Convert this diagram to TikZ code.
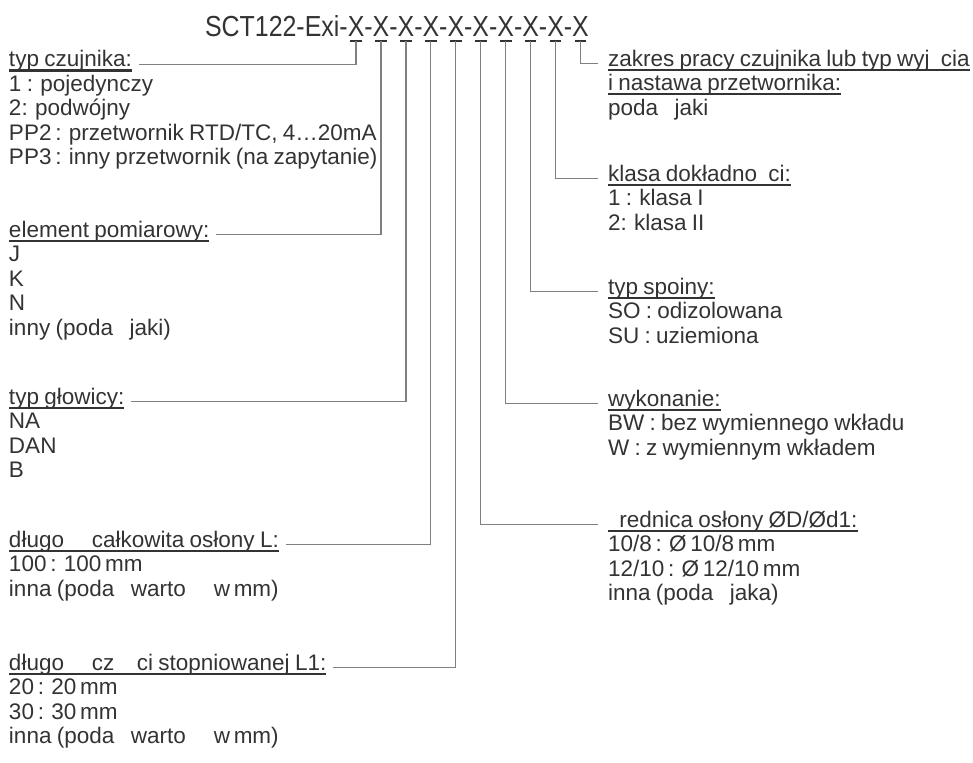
\documentclass[tikz,border=0pt]{standalone}
\usepackage{fontspec}
\setmainfont{Liberation Sans}[WordSpace=0.85]
\newfontfamily\titlefont{Liberation Sans}[FakeStretch=0.86]
\usetikzlibrary{positioning}
\definecolor{ink}{HTML}{333333}
\definecolor{wiregray}{HTML}{808080}
\newcommand{\gapc}{\hspace{0.5em}}

\begin{document}
\begin{tikzpicture}[x=1pt, y=-1pt,
    every node/.style={inner sep=0pt, outer sep=0pt, text=ink, anchor=base west},
    opttext/.style={font=\fontsize{22.5}{24.4}\selectfont},
    headtext/.style={opttext},
    codetext/.style={font=\titlefont\fontsize{29}{30}\selectfont},
    uline/.style={draw=ink, line width=2.2pt},
    conn/.style={draw=wiregray, line width=1.2pt}
]
\useasboundingbox (0,0) rectangle (973,762);

% type code
\node[codetext] (x0) at (205,36.7) {SCT122-Exi};
\foreach \i [count=\j from 0] in {1,...,10} {
    \node[codetext] (d\i) at (x\j.base east) {-};
    \node[codetext] (x\i) at (d\i.base east) {X};
    \draw[uline] ([xshift=2.5pt,yshift=-4.3pt]x\i.base west) -- ([xshift=-2.5pt,yshift=-4.3pt]x\i.base east);
}

% left column
\node[headtext] (czujnik) at (9,67) {typ czujnika:};
\foreach \t [count=\k] in {1 : pojedynczy, 2: podwójny, {PP2\,: przetwornik RTD/TC, 4…20mA}, PP3\,: inny przetwornik (na zapytanie)}
    \node[opttext] (czujnik-\k) at (9,67+24.4*\k) {\t};

\node[headtext] (element) at (9,237.5) {element pomiarowy:};
\foreach \t [count=\k] in {J, K, N, inny (poda\gapc{} jaki)}
    \node[opttext] (element-\k) at (9,237.5+24.4*\k) {\t};

\node[headtext] (glowica) at (9,404.5) {typ głowicy:};
\foreach \t [count=\k] in {NA, DAN, B}
    \node[opttext] (glowica-\k) at (9,404.5+24.4*\k) {\t};

\node[headtext] (dlugosc) at (9,547.5) {długo\gapc\gapc{} całkowita osłony L:};
\foreach \t [count=\k] in {100\,: 100\,mm, inna (poda\gapc{} warto\gapc\gapc{} w\,mm)}
    \node[opttext] (dlugosc-\k) at (9,547.5+24.4*\k) {\t};

\node[headtext] (stopien) at (9,670.5) {długo\gapc\gapc{} cz\gapc\gapc ci stopniowanej L1:};
\foreach \t [count=\k] in {20\,: 20\,mm, 30\,: 30\,mm, inna (poda\gapc{} warto\gapc\gapc{} w\,mm)}
    \node[opttext] (stopien-\k) at (9,670.5+24.4*\k) {\t};

% right column
\node[headtext] (zakres) at (608,66.5) {zakres pracy czujnika lub typ wyj\gapc cia};
\node[headtext] (nastawa) at (608,90.9) {i nastawa przetwornika:};
\node[opttext] (nastawa-1) at (608,115.3) {poda\gapc{} jaki};

\node[headtext] (klasa) at (608,181.5) {klasa dokładno\gapc ci:};
\foreach \t [count=\k] in {1 : klasa I, 2: klasa II}
    \node[opttext] (klasa-\k) at (608,181.5+24.4*\k) {\t};

\node[headtext] (spoina) at (608,294.5) {typ spoiny:};
\foreach \t [count=\k] in {SO : odizolowana, SU : uziemiona}
    \node[opttext] (spoina-\k) at (608,294.5+24.4*\k) {\t};

\node[headtext] (wykonanie) at (608,406.5) {wykonanie:};
\foreach \t [count=\k] in {BW : bez wymiennego wkładu, W : z wymiennym wkładem}
    \node[opttext] (wykonanie-\k) at (608,406.5+24.4*\k) {\t};

\node[headtext] (srednica) at (608,527.5) {\gapc rednica osłony ØD/Ød1:};
\foreach \t [count=\k] in {10/8\,: Ø\,10/8\,mm, 12/10\,: Ø\,12/10\,mm, inna (poda\gapc{} jaka)}
    \node[opttext] (srednica-\k) at (608,527.5+24.4*\k) {\t};

% underlined headings
\foreach \n in {czujnik,element,glowica,dlugosc,stopien,zakres,nastawa,klasa,spoina,wykonanie,srednica}
    \draw[uline] ([yshift=-3.5pt]\n.base west) -- ([yshift=-3.5pt]\n.base east);

% leaders
\foreach \i/\n in {1/czujnik,2/element,3/glowica,4/dlugosc,5/stopien}
    \draw[conn] ([yshift=-4.3pt]x\i.south) |- ([xshift=7pt]\n.mid east);
\foreach \i/\n in {6/srednica,7/wykonanie,8/spoina,9/klasa,10/zakres}
    \draw[conn] ([yshift=-4.3pt]x\i.south) |- ([xshift=-10pt]\n.mid west);
\end{tikzpicture}
\end{document}
